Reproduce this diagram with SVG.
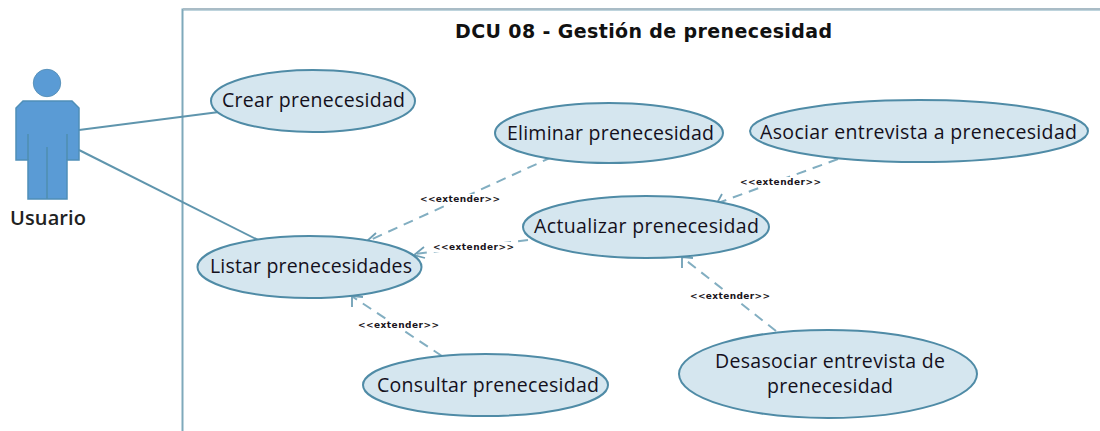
<svg xmlns="http://www.w3.org/2000/svg" width="1100" height="431" viewBox="0 0 1100 431">
<style>
.uc{fill:#d5e6ef;stroke:#4f8ba6;stroke-width:2}
.t{font-family:"Open Sans","Noto Sans",sans-serif;font-size:19.500px;fill:#14101c;text-anchor:middle}
.s{font-family:"DejaVu Sans",sans-serif;font-size:9px;font-weight:bold;fill:#1a1420;text-anchor:middle}
.a{stroke:#5f95ad;stroke-width:2;fill:none}
.d{stroke:#82aec1;stroke-width:2;fill:none;stroke-dasharray:10 7}
.h{stroke:#6f9fb5;stroke-width:1.800;fill:none}
.b{fill:#fff}
</style>
<g id="boundary">
<path d="M182.500 431V9.500H1100" fill="none" stroke="#7fa9bb" stroke-width="2"/>
<path d="M183 9H1100" fill="none" stroke="#a9bcc6" stroke-width="2"/>
<text x="643.500" y="38" font-family="'DejaVu Sans',sans-serif" font-size="19" font-weight="bold" fill="#111" text-anchor="middle" textLength="377">DCU 08 - Gestión de prenecesidad</text>
</g>
<g id="connectors">
<path class="a" d="M79 130L219 112"/>
<path class="a" d="M79 150L258 240"/>
<path class="d" d="M552 157L368 241"/>
<path class="h" d="M376 233L367 241L378 243"/>
<path class="d" d="M528 240L415 254"/>
<path class="h" d="M424 247L414 255L425 258"/>
<path class="d" d="M838 159L718 203"/>
<path class="h" d="M722 194L717 203L728 205"/>
<path class="d" d="M776 331L683 258"/>
<path class="h" d="M682 268L682 257L693 258"/>
<path class="d" d="M442 356L353 297"/>
<path class="h" d="M352 307L352 296L363 297"/>
<rect class="b" x="420" y="194" width="80" height="10"/>
<rect class="b" x="433" y="242" width="81" height="10"/>
<rect class="b" x="740" y="177" width="81" height="10"/>
<rect class="b" x="690" y="291" width="80" height="10"/>
<rect class="b" x="358" y="320" width="81" height="10"/>
<text class="s" x="460" y="202" textLength="80">&lt;&lt;extender&gt;&gt;</text>
<text class="s" x="473.500" y="250" textLength="81">&lt;&lt;extender&gt;&gt;</text>
<text class="s" x="780.500" y="185" textLength="81">&lt;&lt;extender&gt;&gt;</text>
<text class="s" x="730" y="299" textLength="80">&lt;&lt;extender&gt;&gt;</text>
<text class="s" x="398.500" y="328" textLength="81">&lt;&lt;extender&gt;&gt;</text>
</g>
<g id="actor-usuario">
<circle cx="47" cy="83" r="13.700" fill="#5a9bd5" stroke="#5a93bb"/>
<path d="M23 101H72L79 108V160H67V199H28V160H16V108Z" fill="#5a9bd5" stroke="#4f8fb8" stroke-width="1.500"/>
<path d="M28 134V160M67 134V160M47 147V199" fill="none" stroke="#4f8fb0" stroke-width="1.500"/>
<text x="48" y="225" font-family="'Open Sans','Noto Sans',sans-serif" font-size="20" font-weight="600" fill="#222" text-anchor="middle" textLength="76">Usuario</text>
</g>
<g id="uc-crear"><ellipse class="uc" cx="313" cy="101" rx="102" ry="31"/><text class="t" x="313.500" y="107" textLength="183">Crear prenecesidad</text></g>
<g id="uc-eliminar"><ellipse class="uc" cx="609" cy="133" rx="114" ry="30"/><text class="t" x="610.500" y="140" textLength="207">Eliminar prenecesidad</text></g>
<g id="uc-asociar"><ellipse class="uc" cx="919" cy="131" rx="169" ry="31"/><text class="t" x="918.500" y="139" textLength="317">Asociar entrevista a prenecesidad</text></g>
<g id="uc-actualizar"><ellipse class="uc" cx="646" cy="227" rx="123" ry="31"/><text class="t" x="646.500" y="233" textLength="225">Actualizar prenecesidad</text></g>
<g id="uc-listar"><ellipse class="uc" cx="309.500" cy="267" rx="112" ry="31"/><text class="t" x="311" y="273" textLength="202">Listar prenecesidades</text></g>
<g id="uc-consultar"><ellipse class="uc" cx="485.500" cy="385" rx="122.500" ry="31"/><text class="t" x="488" y="392" textLength="222">Consultar prenecesidad</text></g>
<g id="uc-desasociar"><ellipse class="uc" cx="828" cy="374" rx="149" ry="44"/><text class="t" x="830" y="368" textLength="230">Desasociar entrevista de</text><text class="t" x="830" y="393" textLength="126">prenecesidad</text></g>
</svg>
